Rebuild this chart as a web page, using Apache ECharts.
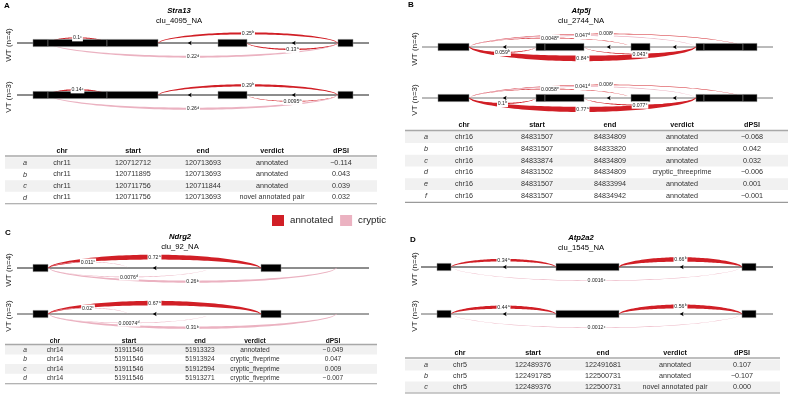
<!DOCTYPE html>
<html><head><meta charset="utf-8">
<script src="https://cdn.jsdelivr.net/npm/echarts@6/dist/echarts.min.js"></script>
<style>html,body{margin:0;padding:0;background:#fff}#c{width:789px;height:406px}</style>
</head><body><div id="c"></div>
<script>
// ================= DATA =================
const trackNames = ['WT (n=4)', 'VT (n=3)'];
const legendNames = ['annotated', 'cryptic'];
const tableHeader = ['', 'chr', 'start', 'end', 'verdict', 'dPSI'];

// ---- Panel A : Stra13 ----
const A_gene = 'Stra13', A_cluster = 'clu_4095_NA';
const A_line = [17, 369];
const A_exons = [[33, 48], [48, 107], [107, 158], [218, 247], [338, 353]];
const A_arrows = [190, 294];
const A_junc = ['a', 'b', 'c', 'd'];
const A_jStart = [247, 158, 48, 48];
const A_jEnd = [338, 338, 107, 338];
const A_jSide = [-1, 1, 1, -1];
const A_jType = ['annotated', 'annotated', 'annotated', 'cryptic'];
const A_psiWT = [0.13, 0.25, 0.1, 0.22];
const A_psiVT = [0.0095, 0.29, 0.14, 0.26];
const A_chr = ['chr11', 'chr11', 'chr11', 'chr11'];
const A_start = ['120712712', '120711895', '120711756', '120711756'];
const A_end = ['120713693', '120713693', '120711844', '120713693'];
const A_verdict = ['annotated', 'annotated', 'annotated', 'novel annotated pair'];
const A_dpsi = ['\u22120.114', '0.043', '0.039', '0.032'];

// ---- Panel B : Atp5j ----
const B_gene = 'Atp5j', B_cluster = 'clu_2744_NA';
const B_line = [422, 773];
const B_exons = [[438, 469], [536, 545], [545, 584], [631, 650], [696, 704], [704, 743], [743, 757]];
const B_arrows = [505, 609, 675];
const B_junc = ['a', 'b', 'c', 'd', 'e', 'f'];
const B_jStart = [469, 469, 584, 469, 469, 469];
const B_jEnd = [696, 536, 696, 696, 631, 743];
const B_jSide = [-1, -1, -1, 1, 1, 1];
const B_jType = ['annotated', 'annotated', 'annotated', 'cryptic', 'annotated', 'annotated'];
const B_psiWT = [0.84, 0.059, 0.043, 0.047, 0.0048, 0.008];
const B_psiVT = [0.77, 0.1, 0.077, 0.041, 0.0058, 0.006];
const B_chr = ['chr16', 'chr16', 'chr16', 'chr16', 'chr16', 'chr16'];
const B_start = ['84831507', '84831507', '84833874', '84831502', '84831507', '84831507'];
const B_end = ['84834809', '84833820', '84834809', '84834809', '84833994', '84834942'];
const B_verdict = ['annotated', 'annotated', 'annotated', 'cryptic_threeprime', 'annotated', 'annotated'];
const B_dpsi = ['\u22120.068', '0.042', '0.032', '\u22120.006', '0.001', '\u22120.001'];

// ---- Panel C : Ndrg2 ----
const C_gene = 'Ndrg2', C_cluster = 'clu_92_NA';
const C_line = [17, 369];
const C_exons = [[33, 48], [261, 281]];
const C_arrows = [155];
const C_junc = ['a', 'b', 'c', 'd'];
const C_jStart = [48, 48, 48, 48];
const C_jEnd = [261, 337, 128, 210];
const C_jSide = [1, -1, 1, -1];
const C_jType = ['annotated', 'cryptic', 'cryptic', 'cryptic'];
const C_psiWT = [0.72, 0.26, 0.011, 0.0076];
const C_psiVT = [0.67, 0.31, 0.02, 0.00074];
const C_chr = ['chr14', 'chr14', 'chr14', 'chr14'];
const C_start = ['51911546', '51911546', '51911546', '51911546'];
const C_end = ['51913323', '51913924', '51912594', '51913271'];
const C_verdict = ['annotated', 'cryptic_fiveprime', 'cryptic_fiveprime', 'cryptic_fiveprime'];
const C_dpsi = ['\u22120.049', '0.047', '0.009', '\u22120.007'];

// ---- Panel D : Atp2a2 ----
const D_gene = 'Atp2a2', D_cluster = 'clu_1545_NA';
const D_line = [421, 773];
const D_exons = [[437, 451], [556, 619], [742, 756]];
const D_arrows = [505, 682];
const D_junc = ['a', 'b', 'c'];
const D_jStart = [451, 619, 451];
const D_jEnd = [556, 742, 742];
const D_jSide = [1, 1, -1];
const D_jType = ['annotated', 'annotated', 'cryptic'];
const D_psiWT = [0.34, 0.66, 0.0016];
const D_psiVT = [0.44, 0.56, 0.0012];
const D_chr = ['chr5', 'chr5', 'chr5'];
const D_start = ['122489376', '122491785', '122489376'];
const D_end = ['122491681', '122500731', '122500731'];
const D_verdict = ['annotated', 'annotated', 'novel annotated pair'];
const D_dpsi = ['0.107', '\u22120.107', '0.000'];

// ================= LAYOUT / STYLE =================
const FONT = '"Liberation Sans", Arial, Helvetica, sans-serif';
const COLORS = { annotated: '#D11F26', cryptic: '#EBB2C1' };

const panels = [
  { letter: 'A', letterXY: [4, 6], gene: A_gene, cluster: A_cluster, titleX: 179, titleY: 11,
    ylabX: 9, base: [43, 95], lineColor: ['#1a1a1a', '#1a1a1a'],
    line: A_line, exons: A_exons, arrows: A_arrows, ids: A_junc, js: A_jStart, je: A_jEnd,
    side: A_jSide, type: A_jType, psi: [A_psiWT, A_psiVT],
    table: { cols: [A_junc, A_chr, A_start, A_end, A_verdict, A_dpsi], colX: [25, 62, 133, 203, 272, 341],
      x0: 5, x1: 377, headY: 151, lineY: 156, row0: 163, rowH: 11.5, font: 7.2 } },
  { letter: 'B', letterXY: [408, 5], gene: B_gene, cluster: B_cluster, titleX: 581, titleY: 11,
    ylabX: 415, base: [47, 98], lineColor: ['#777', '#777'],
    line: B_line, exons: B_exons, arrows: B_arrows, ids: B_junc, js: B_jStart, je: B_jEnd,
    side: B_jSide, type: B_jType, psi: [B_psiWT, B_psiVT],
    table: { cols: [B_junc, B_chr, B_start, B_end, B_verdict, B_dpsi], colX: [426, 464, 537, 610, 682, 752],
      x0: 405, x1: 788, headY: 125, lineY: 130.5, row0: 137, rowH: 11.8, font: 7.2 } },
  { letter: 'C', letterXY: [5, 233], gene: C_gene, cluster: C_cluster, titleX: 180, titleY: 237,
    ylabX: 9, base: [268, 314], lineColor: ['#1a1a1a', '#444'],
    line: C_line, exons: C_exons, arrows: C_arrows, ids: C_junc, js: C_jStart, je: C_jEnd,
    side: C_jSide, type: C_jType, psi: [C_psiWT, C_psiVT],
    table: { cols: [C_junc, C_chr, C_start, C_end, C_verdict, C_dpsi], colX: [25, 55, 129, 200, 255, 333],
      x0: 5, x1: 377, headY: 341, lineY: 344.5, row0: 349.7, rowH: 9.6, font: 6.6 } },
  { letter: 'D', letterXY: [410, 240], gene: D_gene, cluster: D_cluster, titleX: 581, titleY: 238,
    ylabX: 415, base: [267, 314], lineColor: ['#1a1a1a', '#666'],
    line: D_line, exons: D_exons, arrows: D_arrows, ids: D_junc, js: D_jStart, je: D_jEnd,
    side: D_jSide, type: D_jType, psi: [D_psiWT, D_psiVT],
    table: { cols: [D_junc, D_chr, D_start, D_end, D_verdict, D_dpsi], colX: [426, 460, 533, 603, 675, 742],
      x0: 405, x1: 780, headY: 353, lineY: 358, row0: 365, rowH: 11, font: 7.2 } }
];

function arcHeight(spanPx) { return 3 + 0.037 * spanPx; }
function arcWidth(psi) { return 0.55 + 6 * psi; }

function arcPoints(x1, x2, y0, side, psi) {
  const N = 60, span = x2 - x1, h = arcHeight(span) * side, W = arcWidth(psi);
  const top = [], bot = [];
  for (let i = 0; i <= N; i++) {
    const t = i / N;
    const x = x1 + t * span;
    const yc = y0 - h * Math.pow(4 * t * (1 - t), 0.6);
    const w = W * (0.2 + 0.8 * Math.pow(Math.sin(Math.PI * t), 0.7));
    top.push([x, yc - w / 2]);
    bot.push([x, yc + w / 2]);
  }
  return top.concat(bot.reverse());
}

const grids = [], xAxes = [], yAxes = [], series = [], graphics = [];

panels.forEach((p, pi) => {
  graphics.push({ type: 'text', x: p.letterXY[0], y: p.letterXY[1],
    style: { text: p.letter, font: 'bold 8px ' + FONT, fill: '#000', align: 'left', verticalAlign: 'middle', textAlign: 'left', textVerticalAlign: 'middle' } });
  graphics.push({ type: 'text', x: p.titleX, y: p.titleY,
    style: { text: p.gene, font: 'italic bold 7.7px ' + FONT, fill: '#000', align: 'center', verticalAlign: 'middle', textAlign: 'center', textVerticalAlign: 'middle' } });
  graphics.push({ type: 'text', x: p.titleX, y: p.titleY + 10,
    style: { text: p.cluster, font: '7.7px ' + FONT, fill: '#000', align: 'center', verticalAlign: 'middle', textAlign: 'center', textVerticalAlign: 'middle' } });

  [0, 1].forEach(t => {
    const gi = grids.length;
    const base = p.base[t];
    grids.push({ left: p.line[0], top: base - 20, width: p.line[1] - p.line[0], height: 40 });
    xAxes.push({ type: 'value', gridIndex: gi, min: p.line[0], max: p.line[1], show: false });
    yAxes.push({ type: 'value', gridIndex: gi, min: -20, max: 20, show: false });
    const ax = { xAxisIndex: gi, yAxisIndex: gi, silent: true, animation: false };

    graphics.push({ type: 'text', x: p.ylabX, y: base + 2, rotation: Math.PI / 2,
      style: { text: trackNames[t], font: '8px ' + FONT, fill: '#222', align: 'center', verticalAlign: 'middle', textAlign: 'center', textVerticalAlign: 'middle' } });

    series.push(Object.assign({ type: 'custom', name: 'gene', z: 1, data: [p.line],
      renderItem: (params, api) => {
        const a = api.coord([api.value(0), 0]), b = api.coord([api.value(1), 0]);
        return { type: 'line', shape: { x1: a[0], y1: a[1], x2: b[0], y2: b[1] },
          style: { stroke: p.lineColor[t], lineWidth: 1 } };
      } }, ax));

    legendNames.forEach(tp => {
      const idx = p.ids.map((_, i) => i).filter(i => p.type[i] === tp);
      series.push(Object.assign({ type: 'custom', name: tp, z: 2, itemStyle: { color: COLORS[tp] },
        data: idx.map(i => [p.js[i], p.je[i], p.psi[t][i], p.side[i]]),
        renderItem: (params, api) => {
          const a = api.coord([api.value(0), 0]), b = api.coord([api.value(1), 0]);
          return { type: 'polygon', shape: { points: arcPoints(a[0], b[0], a[1], api.value(3), api.value(2)) },
            style: { fill: COLORS[tp] } };
        } }, ax));
    });

    series.push(Object.assign({ type: 'custom', name: 'exon', z: 3, data: p.exons,
      renderItem: (params, api) => {
        const a = api.coord([api.value(0), 0]), b = api.coord([api.value(1), 0]);
        return { type: 'rect', shape: { x: a[0], y: a[1] - 3.6, width: b[0] - a[0], height: 7.2 },
          style: { fill: '#000', stroke: '#8a8a8a', lineWidth: 0.5 } };
      } }, ax));

    series.push(Object.assign({ type: 'custom', name: 'strand', z: 3, data: p.arrows.map(v => [v]),
      renderItem: (params, api) => {
        const a = api.coord([api.value(0), 0]);
        return { type: 'polygon', shape: { points: [[a[0] - 2.2, a[1]], [a[0] + 1.6, a[1] - 2.2], [a[0] + 0.8, a[1]], [a[0] + 1.6, a[1] + 2.2]] },
          style: { fill: '#000' } };
      } }, ax));

    series.push(Object.assign({ type: 'custom', name: 'labels', z: 4,
      data: p.ids.map((_, i) => [p.js[i], p.je[i], p.psi[t][i], p.side[i]]),
      renderItem: (params, api) => {
        const a = api.coord([api.value(0), 0]), b = api.coord([api.value(1), 0]);
        const h = arcHeight(b[0] - a[0]) * api.value(3);
        const letter = p.ids[params.dataIndex];
        return { type: 'text', x: (a[0] + b[0]) / 2, y: a[1] - h,
          style: { text: '{n|' + String(api.value(2)) + '}{s|' + letter + '}',
            rich: { n: { fontSize: 5.2, fontFamily: FONT, fill: '#222' },
                    s: { fontSize: 3.6, fontFamily: FONT, fill: '#222', padding: [0, 0, 2.5, 0.2] } },
            align: 'center', verticalAlign: 'middle', textAlign: 'center', textVerticalAlign: 'middle',
            backgroundColor: '#fff', padding: [0.4, 0.8, 0.2, 0.8] } };
      } }, ax));
  });

  const tb = p.table;
  const nRows = tb.cols[0].length;
  for (let r = 0; r < nRows; r += 2) {
    graphics.push({ type: 'rect', shape: { x: tb.x0, y: tb.row0 + r * tb.rowH - tb.rowH / 2, width: tb.x1 - tb.x0, height: tb.rowH },
      style: { fill: '#f1f1f1' }, z: -1 });
  }
  graphics.push({ type: 'line', shape: { x1: tb.x0, y1: tb.lineY, x2: tb.x1, y2: tb.lineY }, style: { stroke: '#a8a8a8', lineWidth: 1.5 } });
  const bottomY = tb.row0 + (nRows - 0.5) * tb.rowH + 0.5;
  graphics.push({ type: 'line', shape: { x1: tb.x0, y1: bottomY, x2: tb.x1, y2: bottomY }, style: { stroke: '#9a9a9a', lineWidth: 1.1 } });
  tableHeader.forEach((h, c) => {
    if (!h) return;
    graphics.push({ type: 'text', x: tb.colX[c], y: tb.headY,
      style: { text: h, font: 'bold ' + tb.font + 'px ' + FONT, fill: '#111', align: 'center', verticalAlign: 'middle', textAlign: 'center', textVerticalAlign: 'middle' } });
  });
  tb.cols.forEach((col, c) => {
    col.forEach((v, r) => {
      graphics.push({ type: 'text', x: tb.colX[c], y: tb.row0 + r * tb.rowH,
        style: { text: v, font: (c === 0 ? 'italic ' : '') + tb.font + 'px ' + FONT, fill: '#333', align: 'center', verticalAlign: 'middle', textAlign: 'center', textVerticalAlign: 'middle' } });
    });
  });
});

const chart = echarts.init(document.getElementById('c'), null, { renderer: 'canvas' });
chart.setOption({
  animation: false,
  backgroundColor: '#fff',
  textStyle: { fontFamily: FONT },
  legend: { data: legendNames.map(n => ({ name: n, icon: 'rect' })), left: 272, top: 215, padding: 0, itemWidth: 12, itemHeight: 11,
    itemGap: 7, selectedMode: false, textStyle: { fontSize: 9.7, color: '#222', fontFamily: FONT, padding: [0, 0, 0, 1] } },
  grid: grids, xAxis: xAxes, yAxis: yAxes, series: series,
  graphic: { elements: graphics }
});
</script></body></html>
